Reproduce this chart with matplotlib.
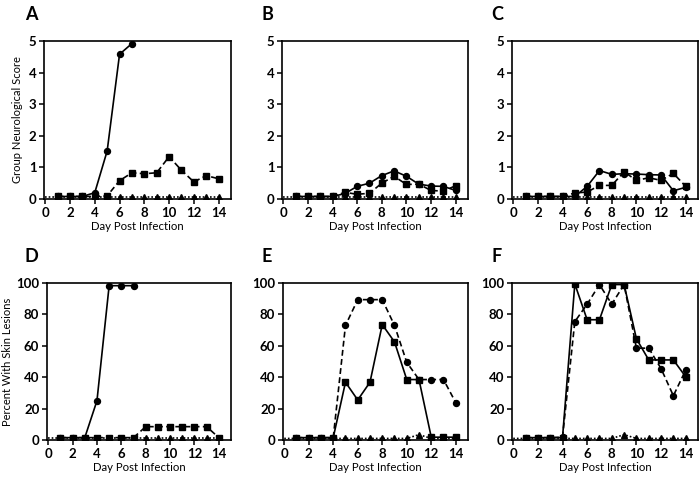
import matplotlib
matplotlib.use("Agg")
import matplotlib.pyplot as plt

plt.rcParams['font.family'] = ['Lato', 'DejaVu Sans']

days = list(range(1, 15))

# Panel A-C: Group Neurological Score
A_circ = [0.08, 0.08, 0.08, 0.2, 1.52, 4.58, 4.92]
A_sq = [0.08, 0.08, 0.08, 0.08, 0.1, 0.58, 0.83, 0.8, 0.83, 1.34, 0.91, 0.54, 0.74, 0.64]
A_tri = [0.07] * 14

B_circ = [0.08, 0.08, 0.08, 0.08, 0.17, 0.4, 0.5, 0.74, 0.89, 0.72, 0.47, 0.41, 0.4, 0.27]
B_sq = [0.08, 0.08, 0.08, 0.08, 0.21, 0.15, 0.18, 0.5, 0.72, 0.46, 0.47, 0.27, 0.25, 0.42]
B_tri = [0.07] * 14

C_circ = [0.08, 0.08, 0.08, 0.08, 0.08, 0.4, 0.9, 0.78, 0.8, 0.79, 0.77, 0.76, 0.26, 0.37]
C_sq = [0.08, 0.08, 0.08, 0.08, 0.19, 0.22, 0.43, 0.43, 0.86, 0.59, 0.67, 0.59, 0.81, 0.4]
C_tri = [0.07] * 14

# Panel D-F: Percent With Skin Lesions
D_circ = [1.5, 1.5, 1.5, 25, 98.3, 98.3, 98.3]
D_sq = [1.5, 1.5, 1.5, 1.5, 1.5, 1.5, 1.5, 8.5, 8.5, 8.5, 8.5, 8.5, 8.5, 1.5]
D_tri = [1.0] * 14

E_circ = [1.5, 1.5, 1.5, 1.5, 73, 89.4, 89.4, 89.4, 73, 49.5, 38.5, 38.5, 38.5, 23.8]
E_sq = [1.5, 1.5, 1.5, 1.5, 36.8, 25.5, 36.8, 73.5, 62.5, 38.5, 38.5, 1.8, 1.8, 1.8]
E_tri = [1.0, 1.0, 1.0, 1.0, 1.0, 1.0, 1.0, 1.0, 1.0, 1.0, 3.4, 1.0, 1.0, 1.0]

F_circ = [1.5, 1.5, 1.5, 1.8, 75.4, 86.5, 99, 86.5, 99, 58.5, 58.5, 45.5, 28.2, 44.5]
F_sq = [1.5, 1.5, 1.5, 1.5, 99.4, 76.6, 76.6, 99, 99, 64.5, 51, 51, 51, 40.3]
F_tri = [1.0, 1.0, 1.0, 1.0, 1.0, 1.0, 1.0, 1.0, 3.4, 1.0, 1.0, 1.0, 1.0, 1.0]

panel_letters = ['A', 'B', 'C', 'D', 'E', 'F']
x_ticks = [0, 2, 4, 6, 8, 10, 12, 14]
score_ticks = [0, 1, 2, 3, 4, 5]
pct_ticks = [0, 20, 40, 60, 80, 100]

W, H = 700, 484
fig = plt.figure(figsize=(W / 100, H / 100), dpi=100)

lefts = [[44, 282, 512], [47, 283, 512]]
rights = [231, 468, 698]
tops = [41, 283]
bottoms = [199, 440]

panels = [
    (A_circ, A_sq, A_tri, '-', '--'),
    (B_circ, B_sq, B_tri, '-', '--'),
    (C_circ, C_sq, C_tri, '-', '--'),
    (D_circ, D_sq, D_tri, '-', '--'),
    (E_circ, E_sq, E_tri, '--', '-'),
    (F_circ, F_sq, F_tri, '--', '-'),
]

lw = 1.2
ms = 4.3
for i, (circ, sq, tri, cls, sls) in enumerate(panels):
    r, c = divmod(i, 3)
    l, rr, t, b = lefts[r][c], rights[c], tops[r], bottoms[r]
    ax = fig.add_axes([l / W, (H - b) / H, (rr - l) / W, (b - t) / H])
    # triangles (dotted)
    ax.plot([0] + days, [tri[0]] + tri, color='black', lw=lw, ls=(0, (1, 1.2)), zorder=2)
    ax.plot(days, tri, ls='none', marker='^', ms=ms, color='black', zorder=3)
    # squares
    dash = (0, (3.5, 2)) if sls == '--' else '-'
    ax.plot(days[:len(sq)], sq, color='black', lw=lw, ls=dash, marker='s', ms=ms * 0.95, zorder=4)
    # circles
    dash = (0, (3.5, 2)) if cls == '--' else '-'
    ax.plot(days[:len(circ)], circ, color='black', lw=lw, ls=dash, marker='o', ms=ms, zorder=5)

    ax.set_xlim(-0.1, 15.0)
    ax.set_xticks(x_ticks)
    if r == 0:
        ax.set_ylim(0, 5)
        ax.set_yticks(score_ticks)
    else:
        ax.set_ylim(0, 100)
        ax.set_yticks(pct_ticks)
    for sp in ax.spines.values():
        sp.set_linewidth(1.2)
        sp.set_color('black')
    ax.tick_params(direction='out', length=3.5, width=1.1, labelsize=9.5, pad=2)
    for lab in ax.get_xticklabels() + ax.get_yticklabels():
        lab.set_fontweight('bold')
    ax.set_xlabel('Day Post Infection', fontsize=8.2, labelpad=2)
    if i == 0:
        ax.set_ylabel('Group Neurological Score', fontsize=8, labelpad=4)
    if i == 3:
        ax.set_ylabel('Percent With Skin Lesions', fontsize=8, labelpad=2)

    lx = [31, 267, 497][c]
    ly = [14, 257][r]
    fig.text(lx / W, 1 - ly / H, panel_letters[i], fontsize=13, fontweight='bold',
             ha='center', va='center')

fig.savefig('out.png', dpi=100)
